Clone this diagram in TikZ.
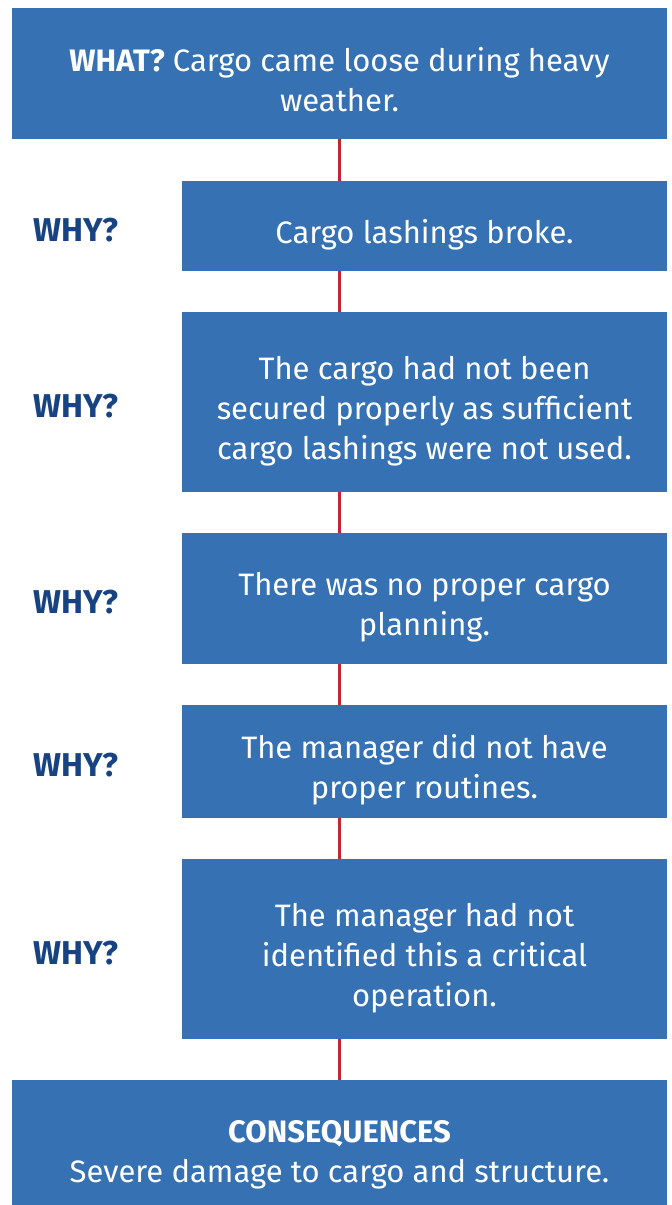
\documentclass[tikz,border=0pt]{standalone}
\usepackage{fontspec}
\setmainfont{Fira Sans}
\usepackage{xcolor}
\definecolor{boxblue}{HTML}{3671B3}
\definecolor{whyblue}{HTML}{174382}
\definecolor{linkred}{HTML}{C0282D}

\begin{document}
\begin{tikzpicture}[x=1pt, y=1pt,
  box/.style={fill=boxblue, inner sep=0pt},
  widebox/.style={box, minimum width=655pt},
  narrowbox/.style={box, minimum width=485pt},
  boxtext/.style={text=white, align=center, inner sep=0pt,
    font=\fontsize{31}{40}\selectfont},
  whylabel/.style={text=whyblue, font=\fontsize{33}{40}\selectfont\bfseries},
  link/.style={draw=linkred, line width=2.2pt}]

\clip (0,0) rectangle (672,-1205);

% What happened
\node[widebox, minimum height=131pt] (what) at (339.5,-73.5) {};
\node[boxtext] (whatText) at ([yshift=-6pt]what.center)
  {\textbf{WHAT?} Cargo came loose during heavy\\weather.};

% Why chain
\node[narrowbox, minimum height=90pt] (why1) at (424.5,-226) {};
\node[boxtext] (why1Text) at ([yshift=-9pt]why1.center)
  {Cargo lashings broke.};

\node[narrowbox, minimum height=180pt] (why2) at (424.5,-402) {};
\node[boxtext] (why2Text) at ([yshift=-9pt]why2.center)
  {The cargo had not been\\secured properly as sufficient\\cargo lashings were not used.};

\node[narrowbox, minimum height=131pt] (why3) at (424.5,-598.5) {};
\node[boxtext] (why3Text) at ([yshift=-9pt]why3.center)
  {There was no proper cargo\\planning.};

\node[narrowbox, minimum height=113pt] (why4) at (424.5,-761.5) {};
\node[boxtext] (why4Text) at ([yshift=-8pt]why4.center)
  {The manager did not have\\proper routines.};

\node[narrowbox, minimum height=180pt] (why5) at (424.5,-949) {};
\node[boxtext] (why5Text) at ([yshift=-9pt]why5.center)
  {The manager had not\\identified this a critical\\operation.};

% Consequences
\node[widebox, minimum height=142pt] (cons) at (339.5,-1151) {};
\node[boxtext] (consText) at ([yshift=-4pt]cons.center)
  {\textbf{CONSEQUENCES}\\Severe damage to cargo and structure.};

% WHY? labels
\node[whylabel] (q1) at (76,-230) {WHY?};
\node[whylabel] (q2) at (76,-406) {WHY?};
\node[whylabel] (q3) at (76,-602) {WHY?};
\node[whylabel] (q4) at (76,-765) {WHY?};
\node[whylabel] (q5) at (76,-953) {WHY?};

% Links
\draw[link] (what.south) -- (what.south |- why1.north);
\draw[link] (what.south |- why1.south) -- (what.south |- why2.north);
\draw[link] (what.south |- why2.south) -- (what.south |- why3.north);
\draw[link] (what.south |- why3.south) -- (what.south |- why4.north);
\draw[link] (what.south |- why4.south) -- (what.south |- why5.north);
\draw[link] (what.south |- why5.south) -- (cons.north);
\end{tikzpicture}
\end{document}
